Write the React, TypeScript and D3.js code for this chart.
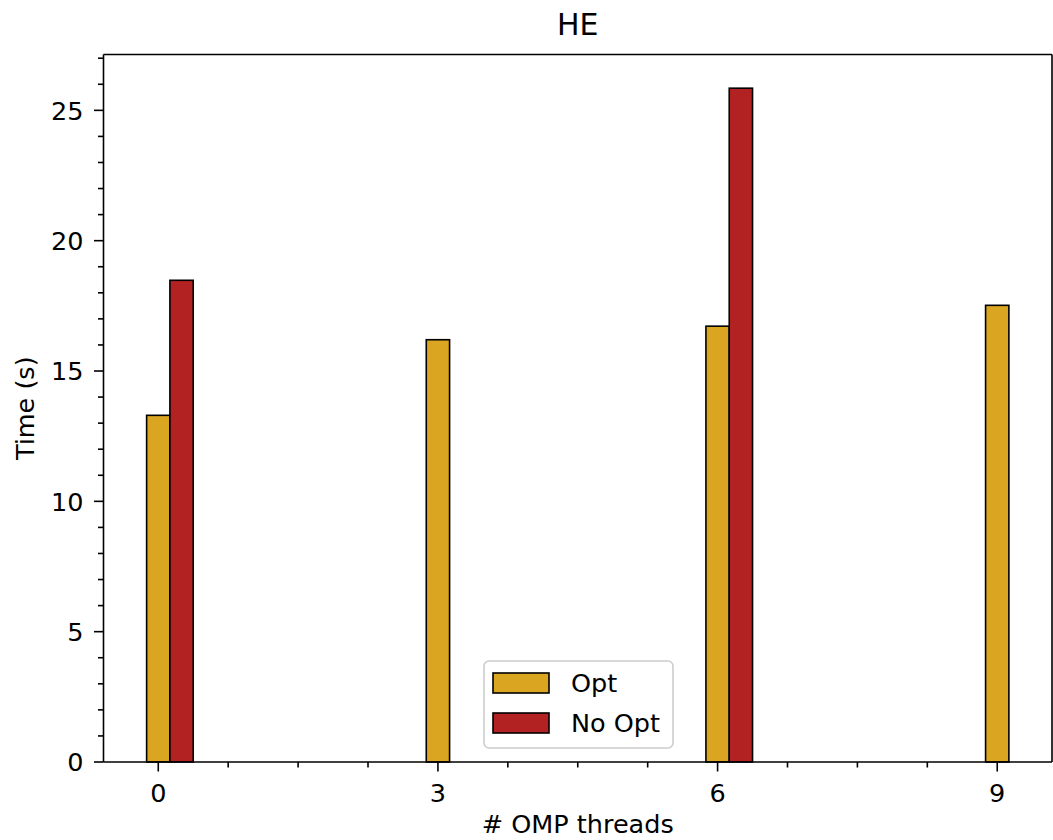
import React from "react";
import * as d3 from "d3";

// Thread counts on the x axis and the measured run times (seconds)
const threads = [0, 3, 6, 9];
const optTimes = [13.3, 16.2, 16.72, 17.52];
const noOptTimes: (number | null)[] = [18.48, null, 25.85, null];
const xTickValues = [0, 3, 6, 9];
const yTickValues = [0, 5, 10, 15, 20, 25];
const seriesNames = ["Opt", "No Opt"];
const seriesColors = ["#DAA520", "#B22222"];

const W = 1053;
const H = 840;
const FONT = "DejaVu Sans, sans-serif";
const FS = 25.5;

export default function App() {
  const left = 103.5;
  const right = 1052;
  const top = 54.5;
  const bottom = 762;
  const barW = 0.25;

  const x = d3.scaleLinear().domain([-0.5875, 9.5875]).range([left, right]);
  const yMax = d3.max([...optTimes, ...(noOptTimes.filter((v) => v != null) as number[])])! * 1.05;
  const y = d3.scaleLinear().domain([0, yMax]).range([bottom, top]);

  const xMinor = d3.range(0.75, 9.6, 0.75).filter((v) => Math.abs(v / 3 - Math.round(v / 3)) > 1e-6);
  const yMinor = d3.range(1, yMax, 1).filter((v) => v % 5 !== 0);

  const bars: { x0: number; v: number; s: number }[] = [];
  threads.forEach((t, i) => {
    bars.push({ x0: t - barW / 2, v: optTimes[i], s: 0 });
    const n = noOptTimes[i];
    if (n != null) bars.push({ x0: t + barW / 2, v: n, s: 1 });
  });

  const legX = 484;
  const legY = 661;

  return (
    <svg
      width={W}
      height={H}
      style={{ position: "absolute", left: 0, top: 0, background: "#fff" }}
      fontFamily={FONT}
    >
      <text x={(left + right) / 2} y={35} textAnchor="middle" fontSize={30} fill="#000">
        HE
      </text>

      {bars.map((b, i) => (
        <rect
          key={i}
          x={x(b.x0)}
          y={y(b.v)}
          width={x(b.x0 + barW) - x(b.x0)}
          height={y(0) - y(b.v)}
          fill={seriesColors[b.s]}
          stroke="#000"
          strokeWidth={1.6}
        />
      ))}

      {/* spines */}
      <g stroke="#000" strokeWidth={1.6} fill="none">
        <line x1={left} x2={left} y1={top} y2={bottom} />
        <line x1={left} x2={right} y1={bottom} y2={bottom} />
        <line x1={left} x2={right} y1={top} y2={top} />
        <line x1={right} x2={right} y1={top} y2={bottom} />
      </g>

      {/* ticks */}
      <g stroke="#000" strokeWidth={1.6}>
        {xTickValues.map((t) => (
          <line key={t} x1={x(t)} x2={x(t)} y1={bottom} y2={bottom + 9.5} />
        ))}
        {xMinor.map((t) => (
          <line key={"m" + t} x1={x(t)} x2={x(t)} y1={bottom} y2={bottom + 5.5} />
        ))}
        {yTickValues.map((t) => (
          <line key={t} x1={left} x2={left - 9.5} y1={y(t)} y2={y(t)} />
        ))}
        {yMinor.map((t) => (
          <line key={"m" + t} x1={left} x2={left - 5.5} y1={y(t)} y2={y(t)} />
        ))}
      </g>
      {xTickValues.map((t) => (
        <text key={t} x={x(t)} y={801.5} textAnchor="middle" fontSize={FS} fill="#000">
          {t}
        </text>
      ))}
      {yTickValues.map((t) => (
        <text key={t} x={left - 20} y={y(t)} dy="0.36em" textAnchor="end" fontSize={FS} fill="#000">
          {t}
        </text>
      ))}

      <text x={(left + right) / 2} y={833} textAnchor="middle" fontSize={FS} fill="#000">
        # OMP threads
      </text>
      <text
        transform={`translate(33.5, ${(top + bottom) / 2}) rotate(-90)`}
        textAnchor="middle"
        fontSize={FS}
        fill="#000"
      >
        Time (s)
      </text>

      {/* legend */}
      <rect x={legX} y={legY} width={189} height={87} rx={5} fill="#fff" fillOpacity={0.8} stroke="#ccc" strokeWidth={1.6} />
      {seriesNames.map((name, i) => (
        <g key={name}>
          <rect
            x={493}
            y={673 + i * 40}
            width={56}
            height={20}
            fill={seriesColors[i]}
            stroke="#000"
            strokeWidth={1.6}
          />
          <text x={571} y={691.5 + i * 40} fontSize={FS} fill="#000">
            {name}
          </text>
        </g>
      ))}
    </svg>
  );
}
